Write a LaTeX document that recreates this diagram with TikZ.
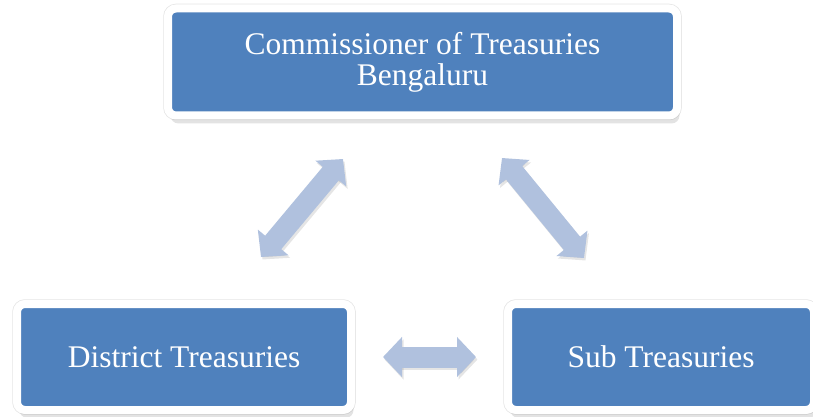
\documentclass[tikz,border=0pt]{standalone}
\usepackage{fontspec}
\setmainfont{Liberation Serif}
\usetikzlibrary{arrows.meta,shadows}
\definecolor{boxblue}{RGB}{79,129,189}
\definecolor{linkblue}{RGB}{176,193,222}
\newcommand{\drawlink}[2]{
  \draw[link, draw=black, opacity=.1, transform canvas={shift={(1.5pt,-2.5pt)}}] (#1)--(#2);
  \draw[link] (#1)--(#2);
}
\tikzset{
  level/.style={fill=boxblue, draw=white, line width=8pt, rounded corners=8pt,
    text=white, font=\fontsize{31.5}{31}\selectfont, align=center, inner sep=0pt,
    preaction={draw=black!10, line width=9.5pt},
    drop shadow={shadow xshift=2.5pt, shadow yshift=-8pt, opacity=.22}},
  link/.style={draw=linkblue, line width=21pt,
    {Triangle[length=19pt,width=39pt]}-{Triangle[length=19pt,width=39pt]}}
}

\begin{document}
\begin{tikzpicture}[x=1pt,y=-1pt]
\useasboundingbox (0,0) rectangle (813,417);
\node[level, minimum width=509pt, minimum height=107pt] (commissioner) at (422.5,62) {Commissioner of Treasuries\\Bengaluru};
\node[level, minimum width=334pt, minimum height=106pt] (district) at (184,357) {District Treasuries};
\node[level, minimum width=306pt, minimum height=106pt] (sub) at (661,357) {Sub Treasuries};
% arrow ends
\coordinate (cd) at (343,159); \coordinate (dc) at (261,257);
\coordinate (cs) at (502,158); \coordinate (sc) at (584,258);
\coordinate (ds) at (383,357); \coordinate (sd) at (476,357);
\drawlink{cd}{dc}
\drawlink{cs}{sc}
\drawlink{ds}{sd}
\end{tikzpicture}
\end{document}
